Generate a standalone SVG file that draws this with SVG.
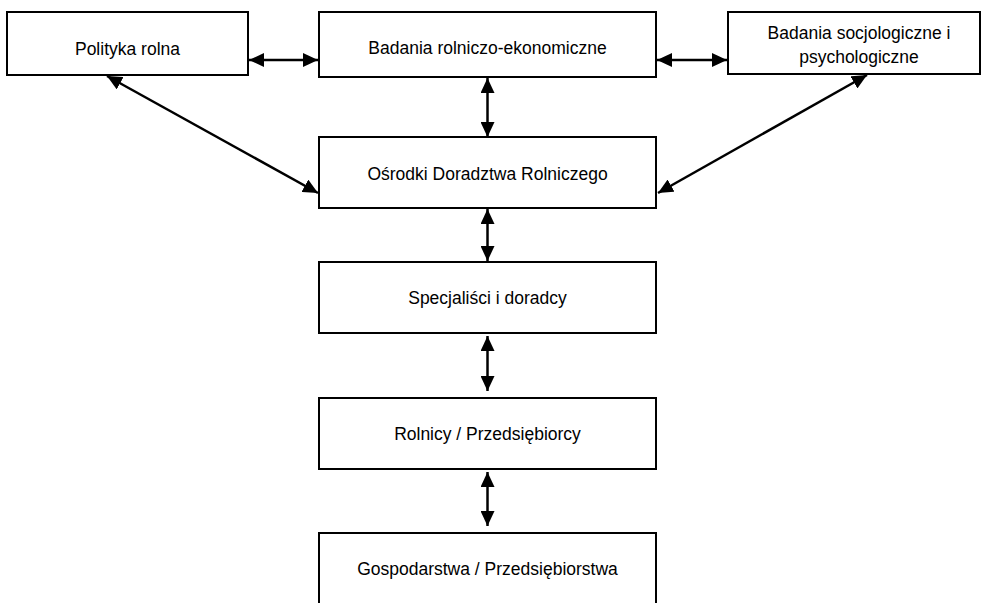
<svg xmlns="http://www.w3.org/2000/svg" width="983" height="603" viewBox="0 0 983 603">
<style>
.box{fill:#fff;stroke:#000;stroke-width:2}
.t{font-family:"Liberation Sans",Arial,sans-serif;font-size:17.5px;fill:#000;text-anchor:middle}
.c{stroke:#000;stroke-width:2.5;fill:none;marker-start:url(#ah);marker-end:url(#ah)}
</style>
<defs>
<marker id="ah" markerUnits="userSpaceOnUse" markerWidth="16" markerHeight="14" viewBox="0 0 16 14" refX="15" refY="7" orient="auto-start-reverse">
<path d="M0,0 L15,7 L0,14 z" fill="#000"/>
</marker>
</defs>
<rect width="983" height="603" fill="#fff"/>
<g id="polityka"><rect class="box" x="7" y="12" width="241" height="63"/><text class="t" x="127.5" y="55">Polityka rolna</text></g>
<g id="badania-rolniczo"><rect class="box" x="319" y="12" width="337" height="65"/><text class="t" x="487.5" y="54">Badania rolniczo-ekonomiczne</text></g>
<g id="badania-socjo"><rect class="box" x="728" y="12" width="252" height="62"/><text class="t" x="859" y="38.5">Badania socjologiczne i</text><text class="t" x="859" y="63">psychologiczne</text></g>
<g id="osrodki"><rect class="box" x="319" y="137" width="337" height="71"/><text class="t" x="487.5" y="179.5">Ośrodki Doradztwa Rolniczego</text></g>
<g id="specjalisci"><rect class="box" x="319" y="262" width="337" height="71"/><text class="t" x="487.5" y="304">Specjaliści i doradcy</text></g>
<g id="rolnicy"><rect class="box" x="319" y="398" width="337" height="71"/><text class="t" x="487.5" y="440">Rolnicy / Przedsiębiorcy</text></g>
<g id="gospodarstwa"><rect class="box" x="319" y="533" width="337" height="90"/><text class="t" x="487.5" y="575">Gospodarstwa / Przedsiębiorstwa</text></g>
<g id="connectors">
<line class="c" x1="249" y1="60" x2="318" y2="60"/>
<line class="c" x1="657" y1="60" x2="727" y2="60"/>
<line class="c" x1="487.5" y1="78" x2="487.5" y2="137"/>
<line class="c" x1="107" y1="76" x2="318" y2="193"/>
<line class="c" x1="867" y1="75" x2="658" y2="193"/>
<line class="c" x1="487.5" y1="209" x2="487.5" y2="261"/>
<line class="c" x1="487.5" y1="336" x2="487.5" y2="391"/>
<line class="c" x1="487.5" y1="472" x2="487.5" y2="526"/>
</g>
</svg>
